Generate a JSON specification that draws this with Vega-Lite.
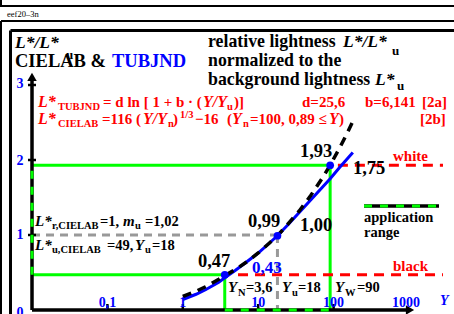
{
  "$schema": "https://vega.github.io/schema/vega-lite/v6.json",
  "width": 454,
  "height": 314,
  "autosize": {"type": "none"},
  "padding": 0,
  "background": "white",
  "config": {"view": {"stroke": null}},
  "datasets": {
    "rules": [
      {"g": "f1", "x": 0.00388, "x2": 0.00388, "y": 4.1333, "y2": 4.0533},
      {"g": "f1", "x": 0.003763, "x2": 3953, "y": 4.0533, "y2": 4.0533},
      {"g": "f1", "x": 0.00388, "x2": 0.00388, "y": 3.8533, "y2": -0.0533},
      {"g": "f1", "x": 0.00388, "x2": 3953, "y": 3.8533, "y2": 3.8533},
      {"g": "f2", "x": 0.005186, "x2": 0.005186, "y": 3.7267, "y2": -0.0533},
      {"g": "f2", "x": 0.005186, "x2": 3953, "y": 3.7267, "y2": 3.7267},
      {"g": "gr", "x": 0.01, "x2": 90, "y": 1.93, "y2": 1.93},
      {"g": "gr", "x": 90, "x2": 90, "y": 1.93, "y2": 0},
      {"g": "gr", "x": 0.01, "x2": 3.6, "y": 0.47, "y2": 0.47},
      {"g": "gr", "x": 3.6, "x2": 3.6, "y": 0.47, "y2": 0},
      {"g": "gy", "x": 0.01, "x2": 18, "y": 1, "y2": 1},
      {"g": "gy", "x": 18, "x2": 18, "y": 1, "y2": 0},
      {"g": "rd", "x": 114, "x2": 2825, "y": 1.93, "y2": 1.93},
      {"g": "rd", "x": 5.4, "x2": 2825, "y": 0.47, "y2": 0.47},
      {"g": "ax", "x": 0.01, "x2": 0.01, "y": 0, "y2": 3.1},
      {"g": "ax", "x": 0.01, "x2": 950, "y": 0, "y2": 0},
      {"g": "ax", "x": 253.1, "x2": 2500, "y": 1.387, "y2": 1.387},
      {"g": "tk", "x": 0.00885, "x2": 0.0113, "y": 1, "y2": 1},
      {"g": "tk", "x": 0.00885, "x2": 0.0113, "y": 2, "y2": 2},
      {"g": "tk", "x": 0.00885, "x2": 0.0113, "y": 3, "y2": 3},
      {"g": "tk", "x": 0.1, "x2": 0.1, "y": 0, "y2": 0.08},
      {"g": "tk", "x": 1, "x2": 1, "y": 0, "y2": 0.08},
      {"g": "tk", "x": 10, "x2": 10, "y": 0, "y2": 0.08},
      {"g": "tk", "x": 100, "x2": 100, "y": 0, "y2": 0.08},
      {"g": "gd", "x": 0.01, "x2": 0.01, "y": 0.47, "y2": 1.93},
      {"g": "gd", "x": 3.6, "x2": 90, "y": 0, "y2": 0},
      {"g": "gd", "x": 253.1, "x2": 2500, "y": 1.387, "y2": 1.387}
    ],
    "tub": [
      {"x": 1, "y": 0.14}, {"x": 1.5, "y": 0.21}, {"x": 2, "y": 0.27}, {"x": 3, "y": 0.37},
      {"x": 3.6, "y": 0.43}, {"x": 5, "y": 0.53}, {"x": 7, "y": 0.64}, {"x": 10, "y": 0.76},
      {"x": 14, "y": 0.89}, {"x": 18, "y": 0.99}, {"x": 25, "y": 1.14}, {"x": 35, "y": 1.3},
      {"x": 50, "y": 1.47}, {"x": 70, "y": 1.63}, {"x": 90, "y": 1.75}, {"x": 120, "y": 1.9},
      {"x": 150, "y": 2.01}, {"x": 180, "y": 2.1}
    ],
    "lab": [
      {"x": 1, "y": 0.18}, {"x": 1.5, "y": 0.25}, {"x": 2, "y": 0.31}, {"x": 3, "y": 0.41},
      {"x": 3.6, "y": 0.46}, {"x": 5, "y": 0.54}, {"x": 7, "y": 0.64}, {"x": 10, "y": 0.76},
      {"x": 14, "y": 0.89}, {"x": 18, "y": 0.99}, {"x": 25, "y": 1.15}, {"x": 35, "y": 1.32},
      {"x": 50, "y": 1.53}, {"x": 70, "y": 1.75}, {"x": 90, "y": 1.93}, {"x": 120, "y": 2.16},
      {"x": 150, "y": 2.35}, {"x": 185, "y": 2.54}
    ],
    "dots": [
      {"x": 3.6, "y": 0.47}, {"x": 18, "y": 0.99}, {"x": 90, "y": 1.93}
    ],
    "arrUp": [{"x": 0.01, "y": 3.107}],
    "arrRight": [{"x": 1031, "y": 0}],
    "txt": [
      {"g": "sm", "t": "eef20–3n", "x": 0.004661, "y": 3.9067},
      {"g": "b18", "t": "CIELAB &", "x": 0.005951, "y": 3.24},
      {"g": "b18r", "t": "relative lightness", "x": 2.1591, "y": 3.5067},
      {"g": "b18r", "t": "normalized to the", "x": 2.1591, "y": 3.2533},
      {"g": "b18r", "t": "background lightness", "x": 2.1591, "y": 3.0},
      {"g": "b18", "t": "1,93", "x": 35.842, "y": 2.04},
      {"g": "b18", "t": "1,75", "x": 180.8, "y": 1.8133},
      {"g": "b18", "t": "0,99", "x": 7.3219, "y": 1.1067},
      {"g": "b18", "t": "1,00", "x": 35.842, "y": 1.0533},
      {"g": "b18", "t": "0,47", "x": 1.5905, "y": 0.5733},
      {"g": "bi18", "t": "L*/L*", "x": 0.005951, "y": 3.4933},
      {"g": "bi18r", "t": "L*/L*", "x": 133.2, "y": 3.5067},
      {"g": "bi18r", "t": "L*", "x": 354, "y": 3.0},
      {"g": "s13", "t": "u", "x": 0.02822, "y": 3.3533},
      {"g": "s13", "t": "u", "x": 595.1, "y": 3.4},
      {"g": "s13", "t": "u", "x": 693, "y": 2.9333},
      {"g": "bl18", "t": "TUBJND", "x": 0.11508, "y": 3.24},
      {"g": "r15", "t": "= d ln [ 1 + b · (", "x": 0.08741, "y": 2.7067},
      {"g": "r15", "t": ")]", "x": 4.776, "y": 2.7067},
      {"g": "r15", "t": "d=25,6", "x": 38.097, "y": 2.7067},
      {"g": "r15", "t": "b=6,141", "x": 260.9, "y": 2.7067},
      {"g": "r15", "t": "[2a]", "x": 1487, "y": 2.7067},
      {"g": "r15", "t": "=116 (", "x": 0.08482, "y": 2.48},
      {"g": "r15", "t": ")", "x": 0.74138, "y": 2.48},
      {"g": "r15", "t": "−16", "x": 1.4512, "y": 2.48},
      {"g": "r15", "t": "(", "x": 3.857, "y": 2.48},
      {"g": "r15", "t": "=100, 0,89 ≤", "x": 7.7847, "y": 2.48},
      {"g": "r15", "t": ")", "x": 117.9, "y": 2.48},
      {"g": "r15", "t": "[2b]", "x": 1399, "y": 2.48},
      {"g": "r15", "t": "white", "x": 613.5, "y": 1.9867},
      {"g": "r15", "t": "black", "x": 613.5, "y": 0.52},
      {"g": "ri15", "t": "L*", "x": 0.012011, "y": 2.7067},
      {"g": "ri15", "t": "Y/Y", "x": 1.8532, "y": 2.7067},
      {"g": "ri15", "t": "L*", "x": 0.012011, "y": 2.48},
      {"g": "ri15", "t": "Y/Y", "x": 0.29666, "y": 2.48},
      {"g": "ri15", "t": "Y", "x": 4.4925, "y": 2.48},
      {"g": "ri15", "t": "Y", "x": 86.9, "y": 2.48},
      {"g": "rs11", "t": "TUBJND", "x": 0.022125, "y": 2.6667},
      {"g": "rs11", "t": "u", "x": 3.857, "y": 2.6667},
      {"g": "rs11", "t": "CIELAB", "x": 0.022125, "y": 2.44},
      {"g": "rs11", "t": "n", "x": 0.63628, "y": 2.44},
      {"g": "rs11", "t": "n", "x": 6.287, "y": 2.44},
      {"g": "rs11", "t": "1/3", "x": 0.91806, "y": 2.56},
      {"g": "b14", "t": "=1,", "x": 0.07977, "y": 1.12},
      {"g": "b14", "t": "=1,02", "x": 0.31527, "y": 1.12},
      {"g": "b14", "t": "=49,", "x": 0.0988, "y": 0.8},
      {"g": "b14", "t": "=18", "x": 0.39035, "y": 0.8},
      {"g": "b14", "t": "=3,6", "x": 6.8894, "y": 0.24},
      {"g": "b14", "t": "=18", "x": 33.72, "y": 0.24},
      {"g": "b14", "t": "=90", "x": 204.3, "y": 0.24},
      {"g": "b14", "t": "application", "x": 253.1, "y": 1.1733},
      {"g": "b14", "t": "range", "x": 253.1, "y": 0.9733},
      {"g": "bi14", "t": "L*", "x": 0.010959, "y": 1.12},
      {"g": "bi14", "t": "m", "x": 0.16096, "y": 1.12},
      {"g": "bi14", "t": "L*", "x": 0.010959, "y": 0.8},
      {"g": "bi14", "t": "Y", "x": 0.23235, "y": 0.8},
      {"g": "bi14", "t": "Y", "x": 3.9762, "y": 0.24},
      {"g": "bi14", "t": "Y", "x": 20.691, "y": 0.24},
      {"g": "bi14", "t": "Y", "x": 104.37, "y": 0.24},
      {"g": "s10", "t": "r,CIELAB", "x": 0.018412, "y": 1.08},
      {"g": "s10", "t": "u", "x": 0.2323, "y": 1.08},
      {"g": "s10", "t": "u,CIELAB", "x": 0.018412, "y": 0.76},
      {"g": "s10", "t": "u", "x": 0.31527, "y": 0.76},
      {"g": "s10", "t": "N", "x": 5.3955, "y": 0.1867},
      {"g": "s10", "t": "u", "x": 28.074, "y": 0.1867},
      {"g": "s10", "t": "W", "x": 141.6, "y": 0.1867},
      {"g": "bl14", "t": "0,1", "x": 0.1, "y": 0.04},
      {"g": "bl14", "t": "1", "x": 1, "y": 0.04},
      {"g": "bl14", "t": "10", "x": 10, "y": 0.04},
      {"g": "bl14", "t": "100", "x": 100, "y": 0.04},
      {"g": "bl14", "t": "1000", "x": 912, "y": 0.04},
      {"g": "bl14", "t": "3", "x": 0.006933, "y": 2.96},
      {"g": "bl14", "t": "2", "x": 0.006933, "y": 1.9333},
      {"g": "bl14", "t": "1", "x": 0.006933, "y": 0.9467},
      {"g": "bl14", "t": "0", "x": 0.006933, "y": -0.09},
      {"g": "bl15", "t": "0,43", "x": 8.2766, "y": 0.4933},
      {"g": "bli", "t": "Y", "x": 2577, "y": 0.0667}
    ]
  },
  "encoding": {
    "x": {"field": "x", "type": "quantitative", "axis": null,
          "scale": {"type": "log", "domain": [0.003763, 3953], "nice": false, "zero": false}},
    "y": {"field": "y", "type": "quantitative", "axis": null,
          "scale": {"type": "linear", "domain": [-0.05333, 4.13333], "nice": false, "zero": false}}
  },
  "layer": [
    {"data": {"name": "rules"}, "transform": [{"filter": "datum.g == 'f1'"}],
     "mark": {"type": "rule", "color": "#000000", "strokeWidth": 2},
     "encoding": {"x2": {"field": "x2"}, "y2": {"field": "y2"}}},
    {"data": {"name": "rules"}, "transform": [{"filter": "datum.g == 'f2'"}],
     "mark": {"type": "rule", "color": "#000000", "strokeWidth": 3},
     "encoding": {"x2": {"field": "x2"}, "y2": {"field": "y2"}}},
    {"data": {"name": "rules"}, "transform": [{"filter": "datum.g == 'gr'"}],
     "mark": {"type": "rule", "color": "#00ff00", "strokeWidth": 3},
     "encoding": {"x2": {"field": "x2"}, "y2": {"field": "y2"}}},
    {"data": {"name": "rules"}, "transform": [{"filter": "datum.g == 'gy'"}],
     "mark": {"type": "rule", "color": "#999999", "strokeWidth": 3, "strokeDash": [8, 6]},
     "encoding": {"x2": {"field": "x2"}, "y2": {"field": "y2"}}},
    {"data": {"name": "rules"}, "transform": [{"filter": "datum.g == 'rd'"}],
     "mark": {"type": "rule", "color": "#ff0000", "strokeWidth": 3, "strokeDash": [10, 7]},
     "encoding": {"x2": {"field": "x2"}, "y2": {"field": "y2"}}},
    {"data": {"name": "rules"}, "transform": [{"filter": "datum.g == 'ax'"}],
     "mark": {"type": "rule", "color": "#000000", "strokeWidth": 3.5},
     "encoding": {"x2": {"field": "x2"}, "y2": {"field": "y2"}}},
    {"data": {"name": "rules"}, "transform": [{"filter": "datum.g == 'tk'"}],
     "mark": {"type": "rule", "color": "#000000", "strokeWidth": 2.5},
     "encoding": {"x2": {"field": "x2"}, "y2": {"field": "y2"}}},
    {"data": {"name": "rules"}, "transform": [{"filter": "datum.g == 'gd'"}],
     "mark": {"type": "rule", "color": "#00ff00", "strokeWidth": 3, "strokeDash": [8, 8]},
     "encoding": {"x2": {"field": "x2"}, "y2": {"field": "y2"}}},
    {"data": {"name": "arrUp"},
     "mark": {"type": "point", "shape": "triangle-up", "filled": true, "color": "#000000", "size": 90, "opacity": 1}},
    {"data": {"name": "arrRight"},
     "mark": {"type": "point", "shape": "triangle-right", "filled": true, "color": "#000000", "size": 90, "opacity": 1}},
    {"data": {"name": "tub"},
     "mark": {"type": "line", "color": "#0000ff", "strokeWidth": 3}},
    {"data": {"name": "lab"},
     "mark": {"type": "line", "color": "#000000", "strokeWidth": 3.5, "strokeDash": [9, 7]}},
    {"data": {"name": "dots"},
     "mark": {"type": "point", "shape": "circle", "filled": true, "color": "#0000ff", "size": 60, "opacity": 1}},
    {"data": {"name": "txt"}, "transform": [{"filter": "datum.g == 'sm'"}],
     "mark": {"type": "text", "align": "left", "baseline": "alphabetic", "font": "Liberation Serif", "fontSize": 8.5, "color": "#000000"},
     "encoding": {"text": {"field": "t"}}},
    {"data": {"name": "txt"}, "transform": [{"filter": "datum.g == 'b18'"}],
     "mark": {"type": "text", "align": "left", "baseline": "alphabetic", "font": "Liberation Serif", "fontSize": 18.5, "fontWeight": "bold", "color": "#000000"},
     "encoding": {"text": {"field": "t"}}},
    {"data": {"name": "txt"}, "transform": [{"filter": "datum.g == 'b18r'"}],
     "mark": {"type": "text", "align": "left", "baseline": "alphabetic", "font": "Liberation Serif", "fontSize": 17.8, "fontWeight": "bold", "color": "#000000"},
     "encoding": {"text": {"field": "t"}}},
    {"data": {"name": "txt"}, "transform": [{"filter": "datum.g == 'bi18'"}],
     "mark": {"type": "text", "align": "left", "baseline": "alphabetic", "font": "Liberation Serif", "fontSize": 17.5, "fontWeight": "bold", "fontStyle": "italic", "color": "#000000"},
     "encoding": {"text": {"field": "t"}}},
    {"data": {"name": "txt"}, "transform": [{"filter": "datum.g == 'bi18r'"}],
     "mark": {"type": "text", "align": "left", "baseline": "alphabetic", "font": "Liberation Serif", "fontSize": 17.5, "fontWeight": "bold", "fontStyle": "italic", "color": "#000000"},
     "encoding": {"text": {"field": "t"}}},
    {"data": {"name": "txt"}, "transform": [{"filter": "datum.g == 's13'"}],
     "mark": {"type": "text", "align": "left", "baseline": "alphabetic", "font": "Liberation Serif", "fontSize": 13, "fontWeight": "bold", "color": "#000000"},
     "encoding": {"text": {"field": "t"}}},
    {"data": {"name": "txt"}, "transform": [{"filter": "datum.g == 'bl18'"}],
     "mark": {"type": "text", "align": "left", "baseline": "alphabetic", "font": "Liberation Serif", "fontSize": 18.5, "fontWeight": "bold", "color": "#0000ff"},
     "encoding": {"text": {"field": "t"}}},
    {"data": {"name": "txt"}, "transform": [{"filter": "datum.g == 'r15'"}],
     "mark": {"type": "text", "align": "left", "baseline": "alphabetic", "font": "Liberation Serif", "fontSize": 15, "fontWeight": "bold", "color": "#ff0000"},
     "encoding": {"text": {"field": "t"}}},
    {"data": {"name": "txt"}, "transform": [{"filter": "datum.g == 'ri15'"}],
     "mark": {"type": "text", "align": "left", "baseline": "alphabetic", "font": "Liberation Serif", "fontSize": 16, "fontWeight": "bold", "fontStyle": "italic", "color": "#ff0000"},
     "encoding": {"text": {"field": "t"}}},
    {"data": {"name": "txt"}, "transform": [{"filter": "datum.g == 'rs11'"}],
     "mark": {"type": "text", "align": "left", "baseline": "alphabetic", "font": "Liberation Serif", "fontSize": 10.5, "fontWeight": "bold", "color": "#ff0000"},
     "encoding": {"text": {"field": "t"}}},
    {"data": {"name": "txt"}, "transform": [{"filter": "datum.g == 'b14'"}],
     "mark": {"type": "text", "align": "left", "baseline": "alphabetic", "font": "Liberation Serif", "fontSize": 14.5, "fontWeight": "bold", "color": "#000000"},
     "encoding": {"text": {"field": "t"}}},
    {"data": {"name": "txt"}, "transform": [{"filter": "datum.g == 'bi14'"}],
     "mark": {"type": "text", "align": "left", "baseline": "alphabetic", "font": "Liberation Serif", "fontSize": 15, "fontWeight": "bold", "fontStyle": "italic", "color": "#000000"},
     "encoding": {"text": {"field": "t"}}},
    {"data": {"name": "txt"}, "transform": [{"filter": "datum.g == 's10'"}],
     "mark": {"type": "text", "align": "left", "baseline": "alphabetic", "font": "Liberation Serif", "fontSize": 10.5, "fontWeight": "bold", "color": "#000000"},
     "encoding": {"text": {"field": "t"}}},
    {"data": {"name": "txt"}, "transform": [{"filter": "datum.g == 'bl14'"}],
     "mark": {"type": "text", "align": "center", "baseline": "alphabetic", "font": "Liberation Serif", "fontSize": 14, "fontWeight": "bold", "color": "#0000ff"},
     "encoding": {"text": {"field": "t"}}},
    {"data": {"name": "txt"}, "transform": [{"filter": "datum.g == 'bl15'"}],
     "mark": {"type": "text", "align": "left", "baseline": "alphabetic", "font": "Liberation Serif", "fontSize": 17, "fontWeight": "bold", "color": "#0000ff"},
     "encoding": {"text": {"field": "t"}}},
    {"data": {"name": "txt"}, "transform": [{"filter": "datum.g == 'bli'"}],
     "mark": {"type": "text", "align": "left", "baseline": "alphabetic", "font": "Liberation Serif", "fontSize": 14, "fontWeight": "bold", "fontStyle": "italic", "color": "#0000ff"},
     "encoding": {"text": {"field": "t"}}}
  ]
}
